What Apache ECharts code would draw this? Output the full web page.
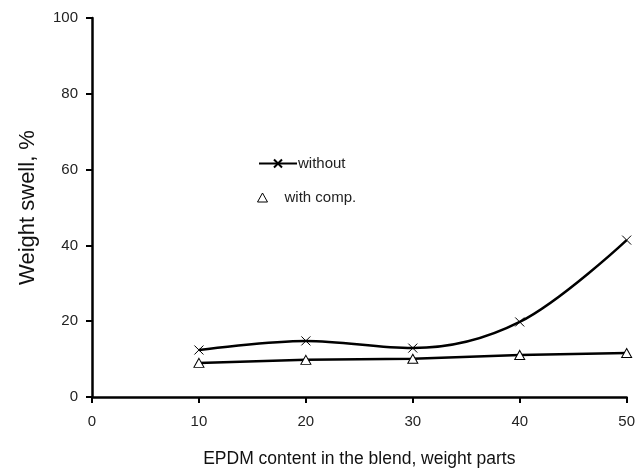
<!DOCTYPE html>
<html><head><meta charset="utf-8">
<script src="https://cdn.jsdelivr.net/npm/echarts@6/dist/echarts.min.js"></script>
<style>html,body{margin:0;padding:0;background:#fff}#c{width:638px;height:474px}</style>
</head><body><div id="c"></div>
<script>
const epdm = [10, 20, 30, 40, 50];
const withoutVals = [12.4, 14.8, 12.9, 19.8, 41.4];
const withCompVals = [9.0, 9.8, 10.1, 11.1, 11.6];
const xTicks = [0, 10, 20, 30, 40, 50];
const yTicks = [0, 20, 40, 60, 80, 100];

const crossPath = 'path://M0,0L10,10M10,0L0,10';
const font = 'Liberation Sans, Arial, sans-serif';
const chart = echarts.init(document.getElementById('c'), null, {renderer: 'canvas'});
chart.setOption({
  animation: false,
  backgroundColor: '#fff',
  grid: {left: 92, right: 11, top: 18, bottom: 77},
  legend: [
    {data: ['without'], left: 253, top: 151, itemWidth: 38, itemHeight: 10,
     textStyle: {fontFamily: font, fontSize: 15, color: '#222', padding: [0,0,0,-4]}},
    {data: [{name: 'with comp.', icon: 'triangle'}], left: 252, top: 185, itemWidth: 10, itemHeight: 9,
     itemStyle: {color: '#fff', borderColor: '#000', borderWidth: 1},
     textStyle: {fontFamily: font, fontSize: 15, color: '#222', padding: [0,0,0,12]}}
  ],
  xAxis: {
    type: 'value', min: 0, max: 50, interval: 10,
    name: 'EPDM content in the blend, weight parts', nameLocation: 'middle', nameGap: 53,
    nameTextStyle: {fontFamily: font, fontSize: 17.5, color: '#111'},
    axisLine: {show: true, onZero: false, lineStyle: {color: '#000', width: 2.5}},
    axisTick: {show: true, inside: false, length: 6, lineStyle: {color: '#000', width: 2}},
    axisLabel: {margin: 17, fontFamily: font, fontSize: 15, color: '#222',
      formatter: v => xTicks.includes(v) ? String(v) : ''},
    splitLine: {show: false}
  },
  yAxis: {
    type: 'value', min: 0, max: 100, interval: 20,
    name: 'Weight swell, %', nameLocation: 'middle', nameGap: 53, nameRotate: 90,
    nameTextStyle: {fontFamily: font, fontSize: 22, color: '#111'},
    axisLine: {show: true, lineStyle: {color: '#000', width: 2.5}},
    axisTick: {show: true, inside: false, length: 6, lineStyle: {color: '#000', width: 2}},
    axisLabel: {margin: 14, fontFamily: font, fontSize: 15, color: '#222',
      formatter: v => yTicks.includes(v) ? String(v) : ''},
    splitLine: {show: false}
  },
  series: [
    {name: 'without', type: 'line', smooth: 0.35,
     data: epdm.map((x, i) => [x, withoutVals[i]]),
     symbol: crossPath, symbolSize: 9,
     itemStyle: {color: '#fff', borderColor: '#000', borderWidth: 1},
     lineStyle: {color: '#000', width: 2.5}, z: 3},
    {name: 'with comp.', type: 'line', smooth: false,
     data: epdm.map((x, i) => [x, withCompVals[i]]),
     symbol: 'triangle', symbolSize: [10, 9],
     itemStyle: {color: '#fff', borderColor: '#000', borderWidth: 1},
     lineStyle: {color: '#000', width: 2.5}, z: 2}
  ]
});
</script></body></html>
